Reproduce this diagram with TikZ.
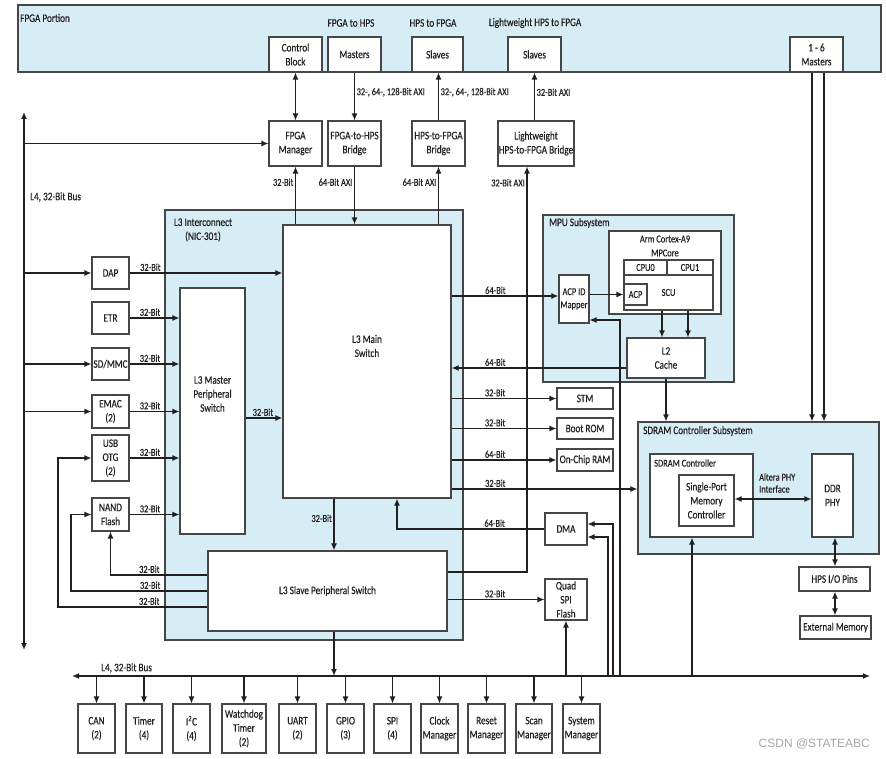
\documentclass[tikz,border=0pt]{standalone}
\usepackage{fontspec}
\setmainfont{Carlito}[FakeStretch=0.8, FakeBold=0.35]
\newfontfamily\wmfont{Liberation Sans}
\usetikzlibrary{arrows.meta}
\definecolor{lightcyan}{RGB}{214,237,245}
\definecolor{edgegray}{RGB}{70,70,72}
\definecolor{ink}{RGB}{35,31,32}

\tikzset{
  region/.style={draw=edgegray, fill=lightcyan, line width=1.1pt, inner sep=0pt},
  blk/.style={draw=edgegray, fill=white, line width=1.1pt, align=center, inner sep=0.5pt,
    text=ink, font=\fontsize{11.5}{14}\selectfont},
  sblk/.style={blk, font=\fontsize{10.5}{13}\selectfont},
  txt/.style={text=ink, align=center, inner sep=0pt, font=\fontsize{11.5}{14}\selectfont},
  lbl/.style={text=ink, inner sep=1.5pt, font=\fontsize{10.5}{12}\selectfont},
  arr/.style={draw=ink, line width=1.3pt, -{Latex[length=7pt,width=6pt]}},
  darr/.style={draw=ink, line width=1.3pt, {Latex[length=7pt,width=6pt]}-{Latex[length=7pt,width=6pt]}},
}

\begin{document}
\begin{tikzpicture}[x=1pt, y=-1pt]
    \useasboundingbox (0,0) rectangle (886,759);

    % Shaded regions
    \node[region, minimum width=863pt, minimum height=67pt] (fpga) at (449.5,38.5) {};
    \node[region, minimum width=298pt, minimum height=430pt] (l3ic) at (314,425) {};
    \node[region, minimum width=191pt, minimum height=167pt] (mpu) at (638.5,298.5) {};
    \node[region, minimum width=241pt, minimum height=132pt] (sdramss) at (758.5,488) {};

    % Region titles
    \node[txt, anchor=west] (fpgat) at (20,18) {FPGA Portion};
    \node[txt] (f2ht) at (351,23) {FPGA to HPS};
    \node[txt] (h2ft) at (433,23) {HPS to FPGA};
    \node[txt] (lwt) at (535,23) {Lightweight HPS to FPGA};
    \node[txt] (l3ict) at (203,230) {L3 Interconnect\\(NIC-301)};
    \node[txt, anchor=west] (mput) at (549,223) {MPU Subsystem};
    \node[txt, anchor=west] (sdramt) at (643,431) {SDRAM Controller Subsystem};
    \node[txt, anchor=west] (l4t) at (30,197) {L4, 32-Bit Bus};
    \node[txt, anchor=west] (l4b) at (101,668) {L4, 32-Bit Bus};

    % FPGA side blocks
    \node[blk, minimum width=53pt, minimum height=35pt] (ctrl) at (295.5,54.5) {Control\\Block};
    \node[blk, minimum width=53pt, minimum height=35pt] (fmst) at (354.5,54.5) {Masters};
    \node[blk, minimum width=51pt, minimum height=35pt] (hslv) at (437.5,54.5) {Slaves};
    \node[blk, minimum width=53pt, minimum height=35pt] (lslv) at (534.5,54.5) {Slaves};
    \node[blk, minimum width=53pt, minimum height=35pt] (smst) at (816.5,54.5) {1 - 6\\Masters};

    % Bridges
    \node[blk, minimum width=53pt, minimum height=45pt] (fmgr) at (295.5,143.5) {FPGA\\Manager};
    \node[blk, minimum width=53pt, minimum height=45pt] (f2h) at (354.5,143.5) {FPGA-to-HPS\\Bridge};
    \node[blk, minimum width=53pt, minimum height=45pt] (h2f) at (438.5,143.5) {HPS-to-FPGA\\Bridge};
    \node[blk, minimum width=76pt, minimum height=45pt] (lwh2f) at (536,143.5) {Lightweight\\HPS-to-FPGA Bridge};

    % Masters on the left
    \node[blk, minimum width=37pt, minimum height=32pt] (dap) at (110.5,273) {DAP};
    \node[blk, minimum width=37pt, minimum height=32pt] (etr) at (110.5,318) {ETR};
    \node[blk, minimum width=37pt, minimum height=32pt] (sdmmc) at (110.5,364) {SD/MMC};
    \node[blk, minimum width=37pt, minimum height=33pt] (emac) at (110.5,411.5) {EMAC\\(2)};
    \node[blk, minimum width=37pt, minimum height=46pt] (usb) at (110.5,458) {USB\\OTG\\(2)};
    \node[blk, minimum width=37pt, minimum height=33pt] (nand) at (110.5,514.5) {NAND\\Flash};

    % Switches
    \node[blk, minimum width=65pt, minimum height=246pt] (mps) at (212.5,411) {};
    \node[txt] (mpst) at (212.5,394) {L3 Master\\Peripheral\\Switch};
    \node[blk, minimum width=168pt, minimum height=273pt] (main) at (367,361.5) {};
    \node[txt] (maint) at (367,346) {L3 Main\\Switch};
    \node[blk, minimum width=239pt, minimum height=80pt] (sps) at (327.5,591) {L3 Slave Peripheral Switch};

    % MPU subsystem
    \node[blk, minimum width=112pt, minimum height=83pt] (mpcore) at (665,272.5) {};
    \node[txt, font=\fontsize{10.5}{14}\selectfont] (mpcoret) at (665,246) {Arm Cortex-A9\\MPCore};
    \node[sblk, minimum width=43pt, minimum height=15pt] (cpu0) at (645.5,267.5) {CPU0};
    \node[sblk, minimum width=46pt, minimum height=15pt] (cpu1) at (690,267.5) {CPU1};
    \node[sblk, minimum width=89pt, minimum height=35pt] (scu) at (668.5,292.5) {SCU};
    \node[sblk, minimum width=23pt, minimum height=21pt] (acp) at (635.5,294.5) {ACP};
    \node[sblk, minimum width=30pt, minimum height=48pt] (mapper) at (574,299) {ACP ID\\Mapper};
    \node[blk, minimum width=78pt, minimum height=40pt] (l2) at (666,358) {L2\\Cache};

    % Slaves on the right
    \node[blk, minimum width=56pt, minimum height=21pt] (stm) at (585,398.5) {STM};
    \node[blk, minimum width=56pt, minimum height=21pt] (brom) at (585,428.5) {Boot ROM};
    \node[blk, minimum width=56pt, minimum height=22pt] (ocram) at (585,460) {On-Chip RAM};
    \node[blk, minimum width=42pt, minimum height=32pt] (dma) at (566,529) {DMA};
    \node[blk, minimum width=42pt, minimum height=41pt] (qspi) at (566,599.5) {Quad\\SPI\\Flash};

    % SDRAM subsystem
    \node[blk, minimum width=103pt, minimum height=83pt] (sdctl) at (701.5,495.5) {};
    \node[lbl, anchor=west, inner sep=0pt] (sdctlt) at (654,463) {SDRAM Controller};
    \node[blk, minimum width=55pt, minimum height=51pt] (spmc) at (706.5,500.5) {Single-Port\\Memory\\Controller};
    \node[blk, minimum width=41pt, minimum height=83pt] (ddr) at (832.5,495.5) {DDR\\PHY};
    \node[lbl, anchor=west, align=left, inner sep=0pt] (phyt) at (759,483) {Altera PHY\\Interface};
    \node[blk, minimum width=71pt, minimum height=24pt] (hpsio) at (834.5,579) {HPS I/O Pins};
    \node[blk, minimum width=71pt, minimum height=23pt] (extmem) at (835.5,627.5) {External Memory};

    % L4 peripherals
    \node[blk, minimum width=37pt, minimum height=49pt] (can) at (96.5,728.5) {CAN\\(2)};
    \node[blk, minimum width=36pt, minimum height=49pt] (timer) at (144,728.5) {Timer\\(4)};
    \node[blk, minimum width=37pt, minimum height=49pt] (i2c) at (191.5,728.5) {I\textsuperscript{2}C\\(4)};
    \node[blk, minimum width=44pt, minimum height=49pt] (wdt) at (244,728.5) {Watchdog\\Timer\\(2)};
    \node[blk, minimum width=37pt, minimum height=49pt] (uart) at (297.5,728.5) {UART\\(2)};
    \node[blk, minimum width=37pt, minimum height=49pt] (gpio) at (345.5,728.5) {GPIO\\(3)};
    \node[blk, minimum width=37pt, minimum height=49pt] (spi) at (392.5,728.5) {SPI\\(4)};
    \node[blk, minimum width=37pt, minimum height=49pt] (clkmgr) at (439.5,728.5) {Clock\\Manager};
    \node[blk, minimum width=37pt, minimum height=49pt] (rstmgr) at (486.5,728.5) {Reset\\Manager};
    \node[blk, minimum width=36pt, minimum height=49pt] (scanmgr) at (534,728.5) {Scan\\Manager};
    \node[blk, minimum width=37pt, minimum height=49pt] (sysmgr) at (581.5,728.5) {System\\Manager};

    % Bus ends
    \coordinate (l4n) at (24,112);
    \coordinate (l4s) at (24,650);
    \coordinate (l4w) at (72,676);
    \coordinate (l4e) at (870,676);
    \draw[darr] (l4n) -- (l4s);
    \draw[darr] (l4w) -- (l4e);

    % FPGA connections
    \draw[darr] (ctrl.south) -- (fmgr.north);
    \draw[arr] (fmst.south) -- node[lbl, right, pos=0.41] {32-, 64-, 128-Bit AXI} (f2h.north);
    \draw[arr] (h2f.north) -- node[lbl, right, pos=0.59] {32-, 64-, 128-Bit AXI} (h2f.north |- hslv.south);
    \draw[arr] (lslv.south |- lwh2f.north) -- node[lbl, right, pos=0.59] {32-Bit AXI} (lslv.south);
    \draw[arr] (l4n |- fmgr.west) -- (fmgr.west);
    \draw[arr] (fmgr.south |- main.north) -- node[lbl, left, pos=0.73] {32-Bit} (fmgr.south);
    \draw[arr] (f2h.south) -- node[lbl, left, pos=0.27] {64-Bit AXI} (f2h.south |- main.north);
    \draw[arr] (h2f.south |- main.north) -- node[lbl, left, pos=0.73] {64-Bit AXI} (h2f.south);
    \draw[arr] (sps.east |- 0,572) -- (527,572) -- node[lbl, left, pos=0.96] {32-Bit AXI} (lwh2f.south -| 527,0);

    % Masters into the interconnect
    \draw[arr] (l4n |- dap.west) -- (dap.west);
    \draw[arr] (l4n |- sdmmc.west) -- (sdmmc.west);
    \draw[arr] (l4n |- emac.west) -- (emac.west);
    \draw[arr] (dap.east) -- node[lbl, above, pos=0.136] {32-Bit} (dap.east -| main.west);
    \draw[arr] (etr.east) -- node[lbl, above, pos=0.41] {32-Bit} (etr.east -| mps.west);
    \draw[arr] (sdmmc.east) -- node[lbl, above, pos=0.41] {32-Bit} (sdmmc.east -| mps.west);
    \draw[arr] (emac.east) -- node[lbl, above, pos=0.41] {32-Bit} (emac.east -| mps.west);
    \draw[arr] (usb.east) -- node[lbl, above, pos=0.41] {32-Bit} (usb.east -| mps.west);
    \draw[arr] (nand.east) -- node[lbl, above, pos=0.41] {32-Bit} (nand.east -| mps.west);
    \draw[arr] (mps.east |- 0,418) -- node[lbl, above, pos=0.47] {32-Bit} (main.west |- 0,418);

    % Slave switch back to the left
    \draw[arr] (sps.west |- 0,575) -| node[lbl, above, pos=0.3] {32-Bit} (nand.south);
    \draw[arr] (sps.west |- 0,591) -- node[lbl, above, pos=0.42] {32-Bit} (71,591) |- (nand.west);
    \draw[arr] (sps.west |- 0,607) -- node[lbl, above, pos=0.39] {32-Bit} (58,607) |- (usb.west);

    % Main switch to the right
    \draw[arr] (main.east |- 0,296) -- node[lbl, above, pos=0.41] {64-Bit} (mapper.west |- 0,296);
    \draw[arr] (mapper.east |- acp.west) -- (acp.west);
    \draw[arr] (l4w -| 620,0) -- (620,320) -- (mapper.east |- 0,320);
    \draw[arr] (l2.west |- 0,368) -- node[lbl, above, pos=0.75] {64-Bit} (main.east |- 0,368);
    \draw[arr] (scu.south -| 662,0) -- (l2.north -| 662,0);
    \draw[arr] (scu.south -| 688,0) -- (l2.north -| 688,0);
    \draw[arr] (l2.south) -- (l2.south |- sdramss.north);
    \draw[arr] (main.east |- stm.west) -- node[lbl, above, pos=0.415] {32-Bit} (stm.west);
    \draw[arr] (main.east |- brom.west) -- node[lbl, above, pos=0.415] {32-Bit} (brom.west);
    \draw[arr] (main.east |- ocram.west) -- node[lbl, above, pos=0.415] {64-Bit} (ocram.west);
    \draw[arr] (main.east |- 0,489) -- node[lbl, above, pos=0.235] {32-Bit} (sdramss.west |- 0,489);
    \draw[arr] (dma.west) -- node[lbl, above, pos=0.338] {64-Bit} (397,529) -- (main.south -| 397,0);
    \draw[arr] (l4w -| 613,0) -- (613,524) -- (dma.east |- 0,524);
    \draw[arr] (l4w -| 608,0) -- (608,537) -- (dma.east |- 0,537);
    \draw[arr] (sps.east |- qspi.west) -- node[lbl, above, pos=0.49] {32-Bit} (qspi.west);
    \draw[arr] (l4w -| qspi.south) -- (qspi.south);

    % SDRAM connections
    \draw[arr] (smst.south -| 812,0) -- (sdramss.north -| 812,0);
    \draw[arr] (smst.south -| 824,0) -- (sdramss.north -| 824,0);
    \draw[darr] (spmc.east |- 0,499) -- (ddr.west |- 0,499);
    \draw[darr] (ddr.south -| 835,0) -- (hpsio.north -| 835,0);
    \draw[darr] (hpsio.south -| 835,0) -- (extmem.north -| 835,0);
    \draw[arr] (l4w -| 692,0) -- (sdctl.south -| 692,0);

    % Main switch down to the L4 bus
    \draw[arr] (main.south -| 334,0) -- node[lbl, left, pos=0.38] {32-Bit} (sps.north -| 334,0);
    \draw[arr] (sps.south -| 334,0) -- (l4w -| 334,0);

    % L4 bus to peripherals
    \draw[arr] (l4w -| can.north) -- (can.north);
    \draw[arr] (l4w -| timer.north) -- (timer.north);
    \draw[arr] (l4w -| i2c.north) -- (i2c.north);
    \draw[arr] (l4w -| wdt.north) -- (wdt.north);
    \draw[arr] (l4w -| uart.north) -- (uart.north);
    \draw[arr] (l4w -| gpio.north) -- (gpio.north);
    \draw[arr] (l4w -| spi.north) -- (spi.north);
    \draw[arr] (l4w -| clkmgr.north) -- (clkmgr.north);
    \draw[arr] (l4w -| rstmgr.north) -- (rstmgr.north);
    \draw[arr] (l4w -| scanmgr.north) -- (scanmgr.north);
    \draw[arr] (l4w -| sysmgr.north) -- (sysmgr.north);

    \node[anchor=east, text=gray!70, inner sep=0pt, font=\wmfont\fontsize{12}{14}\selectfont] (wm) at (870,744) {CSDN @STATEABC};
\end{tikzpicture}
\end{document}
